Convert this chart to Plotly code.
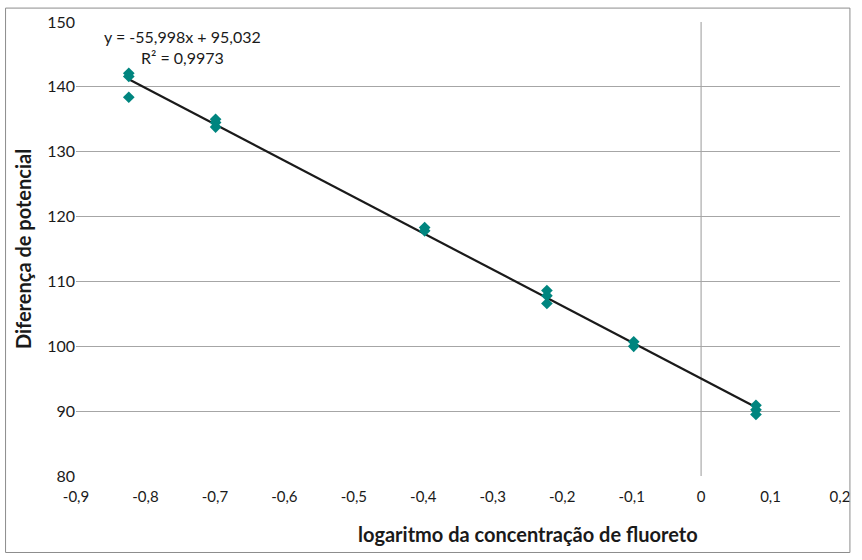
import plotly.graph_objects as go

# Data
log_conc = [-0.824, -0.824, -0.824,
            -0.699, -0.699, -0.699,
            -0.398, -0.398,
            -0.222, -0.222, -0.222,
            -0.097, -0.097,
            0.079, 0.079, 0.079]
potential = [142.1, 141.6, 138.4,
             135.0, 134.5, 133.8,
             118.3, 117.8,
             108.6, 107.8, 106.6,
             100.7, 100.0,
             90.9, 90.2, 89.5]

slope = -55.998
intercept = 95.032
r2_text = "0,9973"

x_ticks = [-0.9, -0.8, -0.7, -0.6, -0.5, -0.4, -0.3, -0.2, -0.1, 0, 0.1, 0.2]
x_ticklabels = ["-0,9", "-0,8", "-0,7", "-0,6", "-0,5", "-0,4", "-0,3", "-0,2", "-0,1", "0", "0,1", "0,2"]
y_ticks = [80, 90, 100, 110, 120, 130, 140, 150]

x_title = "logaritmo da concentração de fluoreto"
y_title = "Diferença de potencial"

FONT = "Lato, Liberation Sans, sans-serif"
TXT = "#1a1a1a"

L, R, T, B = 76, 16, 19, 84
PW, PH = 862 - L - R, 560 - T - B

fig = go.Figure()

# trendline
xmin, xmax = min(log_conc), max(log_conc)
fig.add_trace(go.Scatter(
    x=[xmin, xmax], y=[slope * xmin + intercept, slope * xmax + intercept],
    mode="lines", line=dict(color="#1a1a1a", width=2.2), hoverinfo="skip", showlegend=False))

fig.add_trace(go.Scatter(
    x=log_conc, y=potential, mode="markers",
    marker=dict(symbol="diamond", size=9, color="#00857f"),
    showlegend=False))

# vertical axis line at x = 0
fig.add_shape(type="line", xref="x", yref="y", x0=0, x1=0, y0=80, y1=150,
              line=dict(color="#9a9a9a", width=1), layer="below")

# outer chart border
fig.add_shape(type="rect", xref="paper", yref="paper",
              x0=(5 - L) / PW, x1=(856 - L) / PW,
              y0=(560 - B - 553) / PH, y1=(560 - B - 5) / PH,
              line=dict(color="#8c8c8c", width=1), fillcolor="rgba(0,0,0,0)")

fig.add_annotation(
    x=-0.746, y=146.1, xref="x", yref="y",
    text=f"y = {str(slope).replace('.', ',')}x + {str(intercept).replace('.', ',')}<br>R² = {r2_text}",
    showarrow=False, align="center",
    font=dict(family=FONT, size=16, color=TXT))

# x-axis title (offset to the right as in the original)
fig.add_annotation(
    x=(532 - L) / PW, y=(560 - B - 548) / PH, xref="paper", yref="paper",
    text=f"<b>{x_title}</b>", showarrow=False,
    font=dict(family=FONT, size=20, color=TXT))

fig.update_layout(
    width=862, height=560,
    margin=dict(l=L, r=R, t=T, b=B),
    paper_bgcolor="white", plot_bgcolor="white",
    font=dict(family=FONT, size=15, color=TXT),
    xaxis=dict(range=[-0.9, 0.2], tickvals=x_ticks, ticktext=x_ticklabels,
               showgrid=False, zeroline=False, showline=False, ticks="",
               ticklabelstandoff=10,
               tickfont=dict(size=15, color=TXT)),
    yaxis=dict(range=[80, 150], tickvals=y_ticks,
               showgrid=True, gridcolor="#a6a6a6", gridwidth=1,
               zeroline=False, showline=False, ticks="",
               ticklabelstandoff=0,
               tickfont=dict(size=16, color=TXT),
               title=dict(text=f"<b>{y_title}</b>",
                          font=dict(size=20, color=TXT), standoff=10)),
)

fig.write_html("out.html")
